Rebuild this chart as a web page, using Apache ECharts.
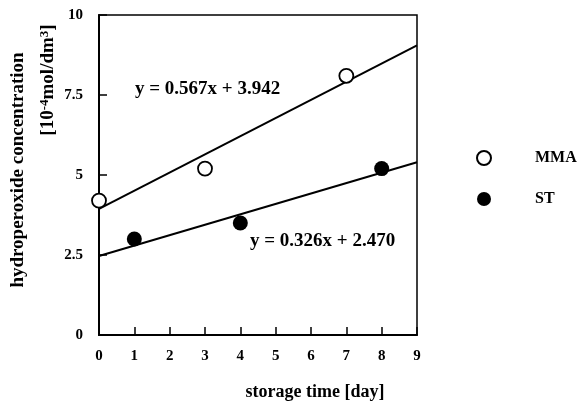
<!DOCTYPE html>
<html>
<head>
<meta charset="utf-8">
<script src="https://cdn.jsdelivr.net/npm/echarts@6/dist/echarts.min.js"></script>
<style>
  html, body { margin: 0; padding: 0; background: #fff; }
  #chart { width: 582px; height: 401px; }
</style>
</head>
<body>
<div id="chart"></div>
<script>
// data
const mmaPoints = [[0, 4.2], [3, 5.2], [7, 8.1]];
const stPoints = [[1, 3.0], [4, 3.5], [8, 5.2]];
// fit lines, end points at x = 0 and x = 9
const mmaFit = [[0, 3.94], [9, 9.05]];
const stFit = [[0, 2.47], [9, 5.40]];
const mmaEquation = 'y = 0.567x + 3.942';
const stEquation = 'y = 0.326x + 2.470';

const serif = '"Liberation Serif", "Times New Roman", serif';

let myChart = echarts.init(document.getElementById('chart'));

let option = {
  animation: false,
  grid: {
    left: 99,
    right: 165,
    top: 15,
    bottom: 66,
    show: true,
    borderColor: '#000',
    borderWidth: 1.5,
  },
  legend: {
    data: ['MMA', 'ST'],
    orient: 'vertical',
    left: 471,
    top: 145,
    itemWidth: 14,
    itemHeight: 14,
    itemGap: 25,
    textStyle: {
      fontFamily: serif,
      fontWeight: 'bold',
      fontSize: 16,
      color: '#000',
      padding: [0, 0, 0, 39],
    },
  },
  xAxis: {
    type: 'value',
    min: 0,
    max: 9,
    interval: 1,
    splitLine: { show: false },
    axisLine: { lineStyle: { color: '#000', width: 2 } },
    axisTick: { inside: true, length: 8, lineStyle: { color: '#000', width: 1.5 } },
    axisLabel: {
      margin: 14,
      color: '#000',
      fontFamily: serif,
      fontWeight: 'bold',
      fontSize: 15,
    },
  },
  yAxis: {
    type: 'value',
    min: 0,
    max: 10,
    interval: 2.5,
    splitLine: { show: false },
    axisLine: { lineStyle: { color: '#000', width: 2 } },
    axisTick: { inside: true, length: 8, lineStyle: { color: '#000', width: 1.5 } },
    axisLabel: {
      margin: 16,
      color: '#000',
      fontFamily: serif,
      fontWeight: 'bold',
      fontSize: 15,
    },
  },
  graphic: [
    {
      type: 'text',
      x: 135,
      y: 89,
      style: { text: mmaEquation, font: 'bold 19px ' + serif, fill: '#000', verticalAlign: 'middle' },
    },
    {
      type: 'text',
      x: 250,
      y: 241,
      style: { text: stEquation, font: 'bold 19px ' + serif, fill: '#000', verticalAlign: 'middle' },
    },
    {
      type: 'text',
      x: 18,
      y: 170,
      rotation: Math.PI / 2,
      style: {
        text: 'hydroperoxide concentration',
        font: 'bold 19px ' + serif,
        fill: '#000',
        align: 'center',
        verticalAlign: 'middle',
      },
    },
    {
      type: 'text',
      x: 48,
      y: 80,
      rotation: Math.PI / 2,
      style: {
        text: '[10{sup|-4}mol/dm{sup|3}]',
        font: 'bold 19px ' + serif,
        fill: '#000',
        align: 'center',
        verticalAlign: 'middle',
        rich: {
          sup: { fontSize: 13, fontWeight: 'bold', fontFamily: serif, verticalAlign: 'top' },
        },
      },
    },
    {
      type: 'text',
      x: 315,
      y: 392,
      style: {
        text: 'storage time [day]',
        font: 'bold 18px ' + serif,
        fill: '#000',
        align: 'center',
        verticalAlign: 'middle',
      },
    },
  ],
  series: [
    {
      name: 'MMA fit',
      type: 'line',
      data: mmaFit,
      showSymbol: false,
      lineStyle: { color: '#000', width: 2 },
      z: 1,
    },
    {
      name: 'ST fit',
      type: 'line',
      data: stFit,
      showSymbol: false,
      lineStyle: { color: '#000', width: 2 },
      z: 1,
    },
    {
      name: 'MMA',
      type: 'scatter',
      data: mmaPoints,
      symbol: 'circle',
      symbolSize: 14,
      itemStyle: { color: '#fff', borderColor: '#000', borderWidth: 1.8, opacity: 1 },
      z: 3,
    },
    {
      name: 'ST',
      type: 'scatter',
      data: stPoints,
      symbol: 'circle',
      symbolSize: 15,
      itemStyle: { color: '#000', opacity: 1 },
      z: 3,
    },
  ],
};

myChart.setOption(option);
</script>
</body>
</html>
